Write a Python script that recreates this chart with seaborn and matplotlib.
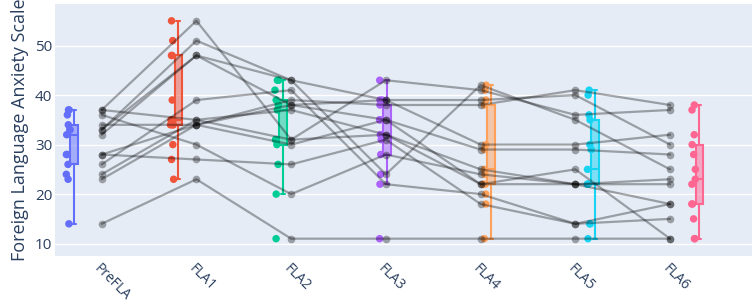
import numpy as np
import pandas as pd
import matplotlib
matplotlib.use("Agg")
import matplotlib.pyplot as plt
from matplotlib.colors import to_rgba
import seaborn as sns

# Scores per session, one entry per participant (same order in every list)
sessions = ["PreFLA", "FLA1", "FLA2", "FLA3", "FLA4", "FLA5", "FLA6"]
pre_fla = [37, 37, 36, 34, 33, 33, 32, 28, 28, 26, 24, 23, 14]
fla1 = [55, 35, 30, 34, 51, 48, 48, 27, 34, 39, 35, 34, 23]
fla2 = [31, 31, 20, 38, 43, 43, 38, 26, 39, 41, 37, 30, 11]
fla3 = [43, 32, 28, 35, 39, 24, 39, 31, 38, 22, 32, 35, 11]
fla4 = [41, 22, 24, 29, 39, 42, 30, 18, 38, 20, 25, 22, 11]
fla5 = [36, 22, 22, 29, 40, 35, 30, 14, 41, 14, 22, 25, 11]
fla6 = [37, 18, 22, 28, 30, 25, 32, 15, 38, 18, 23, 11, 11]
y_ticks = [10, 20, 30, 40, 50]

colors = ["#636EFA", "#EF553B", "#00CC96", "#AB63FA", "#FFA15A", "#19D3F3", "#FF6692"]
text_color = "#2a3f5f"

# Long format table
scores = [pre_fla, fla1, fla2, fla3, fla4, fla5, fla6]
rows = []
for i, (name, vals) in enumerate(zip(sessions, scores)):
    for pid, v in enumerate(vals):
        rows.append({"session": name, "idx": i, "participant": pid, "score": v})
df = pd.DataFrame(rows)

# boxes sit on a slightly wider spacing than the lines (as in the original layout)
box_centers = -0.29 + 1.1 * np.arange(len(sessions))
df["box_x"] = box_centers[df["idx"]]
df["pt_x"] = df["box_x"] - 0.063

sns.set_style("darkgrid", {"axes.facecolor": "#E5ECF6", "grid.color": "white"})
plt.rcParams["font.family"] = ["Open Sans", "DejaVu Sans"]

fig = plt.figure(figsize=(7.54, 3.04), dpi=100)
ax = fig.add_axes([55 / 754, 48 / 304, 697 / 754, 252 / 304])

# Box plots
sns.boxplot(data=df, x="box_x", y="score", hue="session", palette=colors,
            native_scale=True, dodge=False, width=0.075, showfliers=False,
            linewidth=1.5, legend=False, ax=ax)


def nearest_box(x):
    return int(np.argmin(np.abs(box_centers - x)))


for p in ax.patches:
    k = nearest_box(p.get_path().vertices[:, 0].mean())
    p.set_facecolor(to_rgba(colors[k], 0.5))
    p.set_edgecolor(colors[k])
for ln in ax.lines:
    xd = np.asarray(ln.get_xdata(), dtype=float)
    if len(xd):
        ln.set_color(colors[nearest_box(xd.mean())])

# All points next to each box
np.random.seed(3)
sns.stripplot(data=df, x="pt_x", y="score", hue="session", palette=colors,
              native_scale=True, dodge=False, jitter=0.02, size=5.4,
              linewidth=0, legend=False, ax=ax, zorder=3)

# Individual trajectories
sns.lineplot(data=df, x="idx", y="score", units="participant", estimator=None,
             color="black", alpha=0.33, linewidth=1.6, marker="o", markersize=5.5,
             markeredgewidth=0, legend=False, ax=ax, zorder=4)

ax.set_xlim(-0.493, 6.865)
ax.set_ylim(7.5, 58.4)
ax.set_xticks(range(len(sessions)))
ax.set_xticklabels(sessions, rotation=-45, ha="left", va="top",
                   rotation_mode="anchor", color=text_color, fontsize=10)
ax.set_yticks(y_ticks)
ax.set_yticklabels([str(t) for t in y_ticks], color=text_color, fontsize=11)
ax.tick_params(axis="x", length=0, pad=4)
ax.tick_params(axis="y", length=0, pad=2)
ax.grid(axis="x", visible=False)
ax.grid(axis="y", color="white", linewidth=1.0)
for s in ax.spines.values():
    s.set_visible(False)
ax.set_xlabel("")
ax.set_ylabel("Foreign Language Anxiety Scale", fontsize=13, color=text_color, labelpad=4)

fig.savefig("out.png", dpi=100)
